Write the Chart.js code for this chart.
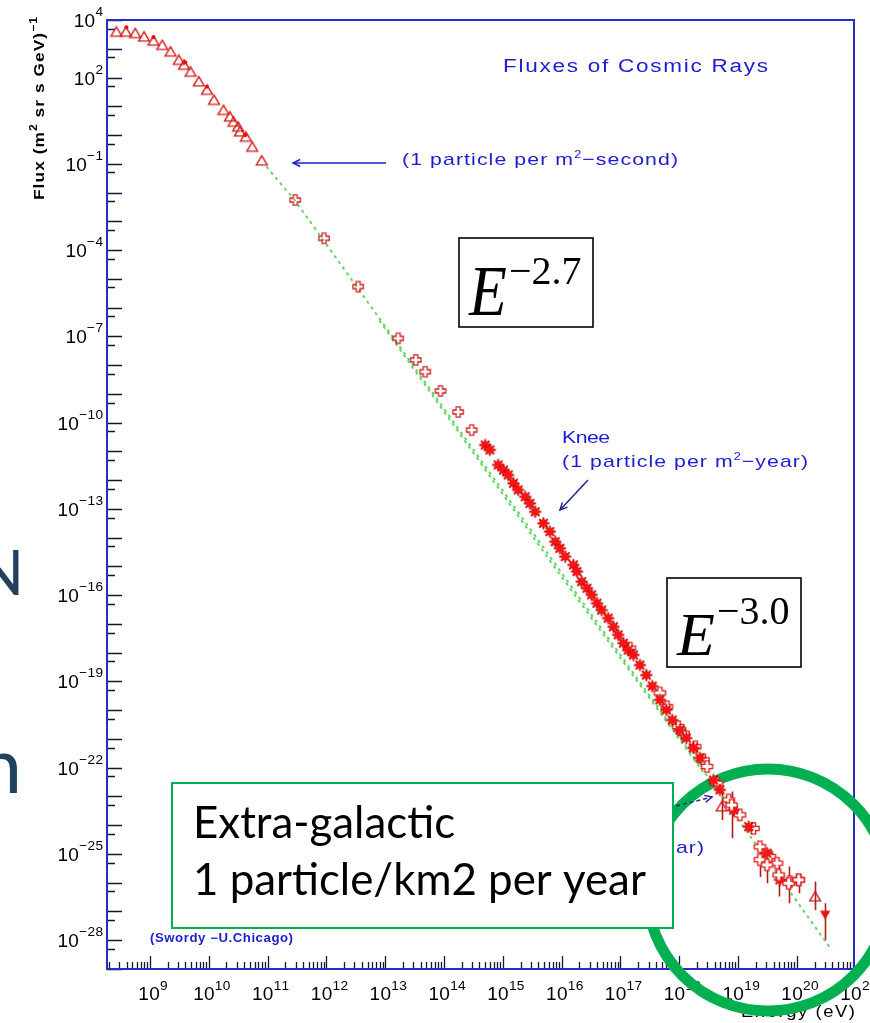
<!DOCTYPE html>
<html>
<head>
<meta charset="utf-8">
<script src="https://cdn.jsdelivr.net/npm/chart.js@4.4.1/dist/chart.umd.min.js"></script>
<style>
  html, body { margin: 0; padding: 0; background: #ffffff; overflow: hidden; }
  canvas { display: block; }
</style>
</head>
<body>
<canvas id="flux" width="870" height="1023"></canvas>
<script>
// ---- Data: all values are log10 of energy (eV) and log10 of flux (m^2 sr s GeV)^-1 ----

// direct measurements at low energy (open triangles)
const lowLogE = [8.43, 8.59, 8.75, 8.90, 9.06, 9.21, 9.35, 9.49, 9.58, 9.69, 9.83, 9.97, 10.09, 10.25, 10.36, 10.42, 10.50, 10.53, 10.63, 10.74, 10.90];
const lowLogF = [3.59, 3.59, 3.54, 3.42, 3.28, 3.13, 2.90, 2.61, 2.44, 2.20, 1.86, 1.57, 1.22, 0.87, 0.64, 0.46, 0.29, 0.12, -0.06, -0.41, -0.89];

// second low-energy set (small filled dots)
const dotLogE = [8.60, 9.06, 9.60, 9.97, 10.62];
const dotLogF = [3.75, 3.40, 2.53, 1.68, 0.00];

// satellite / balloon points (open crosses)
const midLogE = [11.47, 11.96, 12.54, 13.22, 13.52, 13.68, 13.94, 14.24, 14.47];
const midLogF = [-2.26, -3.59, -5.27, -7.07, -7.82, -8.23, -8.90, -9.63, -10.26];

// air-shower measurements around the knee (filled stars)
const kneeLogE = [14.70, 14.78, 14.92, 15.01, 15.09, 15.18, 15.26, 15.38, 15.46, 15.55, 15.69, 15.80, 15.89, 15.97, 16.06, 16.20, 16.26, 16.34, 16.43, 16.51, 16.60, 16.68, 16.79, 16.88, 16.96, 17.05, 17.13, 17.22, 17.33, 17.44, 17.54, 17.67, 17.78, 17.88, 18.01, 18.12, 18.24, 18.35, 18.58, 18.69, 18.92, 19.18, 19.49, 19.71];
const kneeLogF = [-10.78, -10.95, -11.47, -11.65, -11.82, -12.11, -12.34, -12.58, -12.81, -13.10, -13.50, -13.79, -14.14, -14.37, -14.66, -14.95, -15.18, -15.53, -15.76, -15.99, -16.28, -16.52, -16.80, -17.10, -17.38, -17.67, -17.91, -18.08, -18.43, -18.78, -19.16, -19.64, -19.99, -20.34, -20.69, -20.97, -21.31, -21.66, -22.43, -22.77, -23.47, -24.05, -24.97, -25.90];

// highest-energy air-shower points (open crosses)
const highLogE = [17.16, 17.67, 17.79, 17.98, 18.07, 18.27, 18.41, 18.47, 18.64, 18.84, 19.03, 19.26, 19.37, 19.54, 19.66, 19.88, 20.03];
const highLogF = [-17.84, -19.40, -19.88, -20.57, -20.80, -21.27, -21.73, -21.96, -22.54, -23.12, -23.64, -24.11, -24.75, -25.09, -25.32, -25.96, -25.90];

// points with error bars (value, lower and upper end of the bar)
const errLogE  = [18.72, 18.89, 19.37, 19.49, 19.69, 19.86, 20.03, 20.31, 20.48];
const errLogF  = [-23.35, -23.30, -25.20, -25.38, -25.73, -26.02, -25.90, -26.48, -27.12];
const errLogLo = [-23.82, -24.45, -25.80, -26.02, -26.48, -26.71, -26.37, -26.95, -27.99];
const errLogHi = [-22.77, -22.83, -24.62, -25.09, -25.44, -25.44, -25.79, -25.96, -26.71];
const errMarks = ['tri', 'cross', 'cross', 'cross', 'cross', 'cross', 'cross', 'tri', 'down'];

// power-law guide lines (dotted green)
const guideALogE = [10.98, 11.47, 20.59];
const guideALogF = [-1.10, -2.29, -28.34];
const guideBLogE = [12.90, 15.80, 18.40];
const guideBLogF = [-6.45, -14.80, -22.14];

// axis ranges and labelled decades
const xRangeExp = [8.27, 20.97];
const yRangeExp = [-29, 4];
const xLabelExps = [9, 10, 11, 12, 13, 14, 15, 16, 17, 18, 19, 20, 21];
const yLabelExps = [4, 2, -1, -4, -7, -10, -13, -16, -19, -22, -25, -28];

// ---- helpers ----
const pts = (le, lf) => le.map((e, i) => ({ x: Math.pow(10, e), y: Math.pow(10, lf[i]) }));
const minusSign = n => (n < 0 ? '\u2212' + Math.abs(n) : String(n));

function makeMarker(w, h, paint) {
  const c = document.createElement('canvas');
  c.width = w; c.height = h;
  const g = c.getContext('2d');
  g.translate(w / 2, h / 2);
  paint(g);
  return c;
}
function plusOutline(g, a, b) {
  const P = [[-b,-a],[b,-a],[b,-b],[a,-b],[a,b],[b,b],[b,a],[-b,a],[-b,b],[-a,b],[-a,-b],[-b,-b]];
  g.beginPath();
  P.forEach((p, i) => (i ? g.lineTo(p[0], p[1]) : g.moveTo(p[0], p[1])));
  g.closePath();
}
const mkTriangle = makeMarker(14, 13, g => {
  g.strokeStyle = '#cf1b1b'; g.lineWidth = 1.4;
  g.beginPath(); g.moveTo(0, -4.8); g.lineTo(5.4, 4.4); g.lineTo(-5.4, 4.4); g.closePath(); g.stroke();
});
const mkDown = makeMarker(14, 13, g => {
  g.fillStyle = '#e01414';
  g.beginPath(); g.moveTo(0, 4.8); g.lineTo(5.2, -4.2); g.lineTo(-5.2, -4.2); g.closePath(); g.fill();
});
const mkMidCross = makeMarker(14, 16, g => {
  g.strokeStyle = '#cc2424'; g.lineWidth = 1.3; plusOutline(g, 5.2, 2.0); g.stroke();
});
const mkHighCross = makeMarker(15, 15, g => {
  g.fillStyle = '#ffffff'; plusOutline(g, 5.6, 2.1); g.fill();
  g.strokeStyle = '#e01c1c'; g.lineWidth = 1.4; g.stroke();
});
const mkStar = makeMarker(15, 15, g => {
  g.strokeStyle = '#b00a0a'; g.lineWidth = 1.8; g.beginPath();
  for (let k = 0; k < 4; k++) {
    const t = k * Math.PI / 4;
    g.moveTo(-6 * Math.cos(t), -6 * Math.sin(t)); g.lineTo(6 * Math.cos(t), 6 * Math.sin(t));
  }
  g.stroke();
  g.fillStyle = '#ff1212'; g.beginPath(); g.arc(0, 0, 4, 0, Math.PI * 2); g.fill();
});
const errStyle = { tri: mkTriangle, cross: mkHighCross, down: mkDown };

// text drawn glyph by glyph so that width, stretch, superscripts and spacing can be set
function rich(ctx, parts, x, y, o) {
  const size = o.size, fam = o.family || 'Liberation Sans', wt = o.weight || 'normal';
  const sx = o.sx || 1;
  const supSize = size * (o.supScale || 0.7);
  const rise = o.rise != null ? o.rise : size * 0.45;
  const fMain = `${wt} ${size}px "${fam}"`, fSup = `${wt} ${supSize}px "${fam}"`;
  const chars = [];
  parts.forEach(([t, sup]) => {
    ctx.font = sup ? fSup : fMain;
    for (const ch of t) chars.push({ ch, sup, w: ctx.measureText(ch).width * sx });
  });
  const nat = chars.reduce((s, c) => s + c.w, 0);
  let ls = o.ls || 0;
  if (o.width) ls = (o.width - nat) / Math.max(1, chars.length - 1);
  const total = nat + ls * (chars.length - 1);
  let cx = o.align === 'right' ? x - total : o.align === 'center' ? x - total / 2 : x;
  ctx.save();
  ctx.fillStyle = o.color || '#000';
  ctx.textAlign = 'left'; ctx.textBaseline = 'alphabetic';
  for (const c of chars) {
    ctx.font = c.sup ? fSup : fMain;
    ctx.save();
    ctx.translate(cx, c.sup ? y - rise : y);
    ctx.scale(sx, 1);
    ctx.fillText(c.ch, 0, 0);
    ctx.restore();
    cx += c.w + ls;
  }
  ctx.restore();
  return ls;
}
function arrow(ctx, x0, y0, x1, y1, color, dash) {
  const ang = Math.atan2(y1 - y0, x1 - x0), L = 8, spread = 0.45;
  ctx.save();
  ctx.strokeStyle = color; ctx.lineWidth = 1.5;
  if (dash) ctx.setLineDash(dash);
  ctx.beginPath(); ctx.moveTo(x0, y0); ctx.lineTo(x1, y1); ctx.stroke();
  ctx.setLineDash([]);
  ctx.beginPath();
  ctx.moveTo(x1 - L * Math.cos(ang - spread), y1 - L * Math.sin(ang - spread));
  ctx.lineTo(x1, y1);
  ctx.lineTo(x1 - L * Math.cos(ang + spread), y1 - L * Math.sin(ang + spread));
  ctx.stroke();
  ctx.restore();
}

const FRAME = '#2a2ac6';
const TICK = '#14143c';
const BLUE = '#1c1cd0';
const SLIDE_GREEN = '#00b050';

// ---- axes in the ROOT style (inward ticks, blue frame, 10^n labels), highlight ring, error bars ----
const rootAxes = {
  id: 'rootAxes',
  beforeDatasetsDraw(chart) {
    const { ctx, chartArea: a, scales: { x, y } } = chart;
    ctx.save();
    ctx.strokeStyle = TICK; ctx.lineWidth = 1.3;
    ctx.beginPath();
    for (let d = yRangeExp[0]; d <= yRangeExp[1]; d++) {
      const py = Math.round(y.getPixelForValue(Math.pow(10, d))) + 0.5;
      ctx.moveTo(a.left, py); ctx.lineTo(a.left + 15, py);
      if (d > yRangeExp[0]) {
        const ps = Math.round(y.getPixelForValue(5 * Math.pow(10, d - 1))) + 0.5;
        ctx.moveTo(a.left, ps); ctx.lineTo(a.left + 8, ps);
      }
    }
    for (let d = Math.floor(xRangeExp[0]); d <= Math.ceil(xRangeExp[1]); d++) {
      for (let m = 1; m <= 9; m++) {
        const v = m * Math.pow(10, d);
        if (v < x.min || v > x.max) continue;
        const px = Math.round(x.getPixelForValue(v)) + 0.5;
        ctx.moveTo(px, a.bottom); ctx.lineTo(px, a.bottom - (m === 1 ? 13 : 7));
      }
    }
    ctx.stroke();
    ctx.strokeStyle = FRAME; ctx.lineWidth = 2;
    ctx.strokeRect(a.left, a.top, a.right - a.left, a.bottom - a.top);
    ctx.restore();

    // tick labels
    yLabelExps.forEach(d => {
      const py = y.getPixelForValue(Math.pow(10, d));
      rich(ctx, [['10', 0], [minusSign(d), 1]], a.left - 4, py + 7, { size: 19, supScale: 0.72, rise: 11, ls: 0.3, align: 'right' });
    });
    xLabelExps.forEach(d => {
      const px = x.getPixelForValue(Math.pow(10, d));
      rich(ctx, [['10', 0], [minusSign(d), 1]], px + 3, 1000, { size: 19, supScale: 0.72, rise: 10, ls: 0.3, align: 'center' });
    });

    // axis titles
    ctx.save();
    ctx.translate(44, 200); ctx.rotate(-Math.PI / 2);
    rich(ctx, [['Flux (m', 0], ['2', 1], [' sr s GeV)', 0], ['\u22121', 1]], 0, 0, { size: 15, sx: 1.15, weight: 'bold', supScale: 0.7, rise: 7, width: 183 });
    ctx.restore();
    rich(ctx, [['Energy (eV)', 0]], 855, 1017, { size: 16, sx: 1.15, width: 114, align: 'right' });

    // highlight ring around the highest energies (under the data marks)
    ctx.save();
    ctx.strokeStyle = SLIDE_GREEN; ctx.lineWidth = 11;
    ctx.beginPath(); ctx.arc(768, 890, 121, 0, Math.PI * 2); ctx.stroke();
    ctx.restore();

    // error bars
    ctx.save();
    ctx.strokeStyle = '#b41c1c'; ctx.lineWidth = 1.6;
    ctx.beginPath();
    errLogE.forEach((e, i) => {
      const px = Math.round(x.getPixelForValue(Math.pow(10, e))) + 0.5;
      ctx.moveTo(px, y.getPixelForValue(Math.pow(10, errLogHi[i])));
      ctx.lineTo(px, y.getPixelForValue(Math.pow(10, errLogLo[i])));
    });
    ctx.stroke();
    ctx.restore();
  }
};

// ---- titles, notes, boxes ----
const notes = {
  id: 'notes',
  afterDraw(chart) {
    const { ctx } = chart;

    // plot title and annotations
    rich(ctx, [['Fluxes of Cosmic Rays', 0]], 503, 72, { size: 18, sx: 1.25, width: 265, color: BLUE });
    rich(ctx, [['(1 particle per m', 0], ['2', 1], ['\u2212second)', 0]], 402, 165, { size: 17, sx: 1.25, supScale: 0.6, rise: 7, width: 276, color: BLUE });
    arrow(ctx, 386, 163, 293, 163, BLUE);

    rich(ctx, [['Knee', 0]], 562, 443, { size: 17, sx: 1.25, width: 48, color: BLUE });
    const ls = rich(ctx, [['(1 particle per m', 0], ['2', 1], ['\u2212year)', 0]], 562, 467, { size: 17, sx: 1.25, supScale: 0.6, rise: 7, width: 246, color: BLUE });
    arrow(ctx, 588, 480, 560, 510, '#23238c');

    rich(ctx, [['Ankle', 0]], 560, 830, { size: 17, sx: 1.25, ls: ls, color: BLUE });
    rich(ctx, [['(1 particle per km', 0], ['2', 1], ['\u2212year)', 0]], 704, 853, { size: 17, sx: 1.25, supScale: 0.6, rise: 7, ls: ls, color: BLUE, align: 'right' });
    arrow(ctx, 676, 806, 712, 797, '#2424a0', [4, 3]);

    rich(ctx, [['(Swordy \u2212U.Chicago)', 0]], 150, 942, { size: 12, sx: 1.1, weight: 'bold', width: 143, color: BLUE });

    // spectral index boxes
    const eBox = (bx, by, idx, stretch) => {
      ctx.save();
      ctx.fillStyle = '#ffffff'; ctx.fillRect(bx, by, 134, 89);
      ctx.strokeStyle = '#000000'; ctx.lineWidth = 1.6; ctx.strokeRect(bx, by, 134, 89);
      ctx.fillStyle = '#000000';
      ctx.translate(bx + 10, by + 77);
      ctx.scale(1, stretch);
      ctx.font = 'italic 62px "Liberation Serif"';
      ctx.fillText('E', 0, 0);
      ctx.restore();
      ctx.save();
      ctx.fillStyle = '#000000';
      ctx.font = '40px "Liberation Serif"';
      ctx.fillText(idx, bx + 50, by + 46);
      ctx.restore();
    };
    eBox(459, 238, '\u22122.7', 1.15);
    eBox(667, 578, '\u22123.0', 1.0);

    // slide call-out box, on top of the ring
    ctx.save();
    ctx.fillStyle = '#ffffff'; ctx.fillRect(172, 783, 501, 145);
    ctx.strokeStyle = SLIDE_GREEN; ctx.lineWidth = 2; ctx.strokeRect(172, 783, 501, 145);
    ctx.font = '40px Lato';
    const want = 453, got = ctx.measureText('1 particle/km2 per year').width;
    const fs = 40 * want / got;
    ctx.font = `${fs}px Lato`;
    ctx.fillStyle = '#000000';
    ctx.fillText('Extra-galactic', 193, 838);
    ctx.fillText('1 particle/km2 per year', 193, 895);
    ctx.restore();

    // slide text running in from the left edge
    ctx.save();
    ctx.fillStyle = '#23405f';
    ctx.font = '62px Lato';
    ctx.fillText('N', 18 - ctx.measureText('N').width + 6, 595);
    ctx.font = '78px Lato';
    ctx.fillText('n', 16 - ctx.measureText('n').width + 6, 793);
    ctx.restore();
  }
};

const guideStyle = {
  showLine: true, pointRadius: 0, borderColor: '#5fd65f', borderWidth: 2,
  borderDash: [3, 4], fill: false, order: 10
};

new Chart(document.getElementById('flux'), {
  type: 'scatter',
  data: {
    datasets: [
      { label: 'E^-2.7 guide', data: pts(guideALogE, guideALogF), ...guideStyle },
      { label: 'E^-3 guide', data: pts(guideBLogE, guideBLogF), ...guideStyle },
      { label: 'direct', data: pts(lowLogE, lowLogF), pointStyle: mkTriangle, pointRadius: 5, order: 5 },
      { label: 'direct (2)', data: pts(dotLogE, dotLogF), pointStyle: 'circle', pointRadius: 2, backgroundColor: '#ff0000', borderWidth: 0, order: 4 },
      { label: 'balloon', data: pts(midLogE, midLogF), pointStyle: mkMidCross, pointRadius: 5, order: 5 },
      { label: 'air shower', data: pts(kneeLogE, kneeLogF), pointStyle: mkStar, pointRadius: 5, order: 3 },
      { label: 'UHE', data: pts(highLogE, highLogF), pointStyle: mkHighCross, pointRadius: 5, order: 4 },
      { label: 'UHE with errors', data: pts(errLogE, errLogF), pointStyle: errMarks.map(m => errStyle[m]), pointRadius: 5, order: 2 }
    ]
  },
  options: {
    responsive: false,
    animation: false,
    devicePixelRatio: 1,
    events: [],
    layout: { padding: { left: 107, top: 20, right: 16, bottom: 54 } },
    plugins: { legend: { display: false }, tooltip: { enabled: false } },
    scales: {
      x: {
        type: 'logarithmic', bounds: 'data',
        min: Math.pow(10, xRangeExp[0]), max: Math.pow(10, xRangeExp[1]),
        ticks: { display: false }, grid: { display: false, drawTicks: false }, border: { display: false },
        afterFit(s) { s.height = 0; }
      },
      y: {
        type: 'logarithmic', bounds: 'data',
        min: Math.pow(10, yRangeExp[0]), max: Math.pow(10, yRangeExp[1]),
        ticks: { display: false }, grid: { display: false, drawTicks: false }, border: { display: false },
        afterFit(s) { s.width = 0; }
      }
    }
  },
  plugins: [rootAxes, notes]
});
</script>
</body>
</html>
